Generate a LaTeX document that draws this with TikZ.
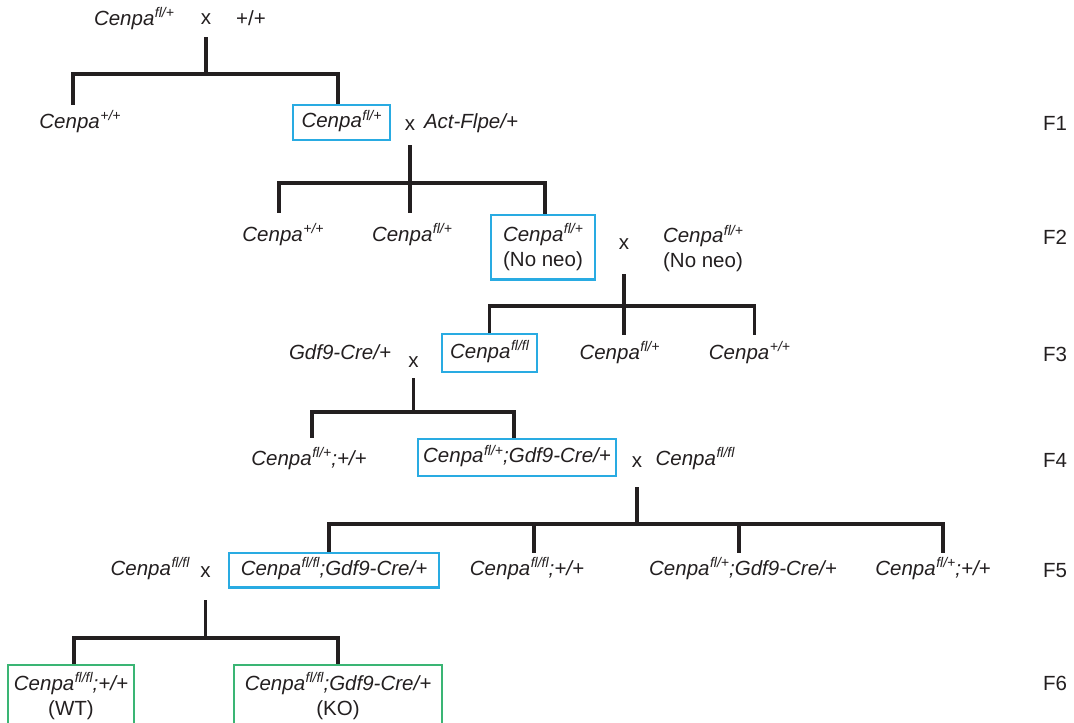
\documentclass[tikz,border=0pt]{standalone}
\usepackage{fontspec}
\setmainfont{Liberation Sans}
\definecolor{boxblue}{RGB}{41,171,226}
\definecolor{boxgreen}{RGB}{58,181,116}
\definecolor{ink}{RGB}{35,31,32}
\newcommand\gsp[1]{\kern0.5pt\raisebox{0.38em}{\fontsize{14}{14}\selectfont #1}}
\newcommand\cen[1]{\textit{Cenpa\gsp{#1}}}
\begin{document}
\begin{tikzpicture}[x=1pt,y=-1pt,
  every node/.style={font=\fontsize{20.5}{25}\selectfont, text=ink},
  lbl/.style={inner sep=0pt, text height=14.8pt, text depth=4.2pt},
  lbltwo/.style={inner sep=0pt, align=center},
  bbox/.style={draw=boxblue, line width=2.5pt, inner sep=0pt, text height=14.8pt, text depth=4.2pt},
  bboxtwo/.style={draw=boxblue, line width=2.5pt, inner sep=0pt, align=center},
  gboxtwo/.style={draw=boxgreen, line width=2.5pt, inner sep=0pt, align=center},
  link/.style={draw=ink, line width=3.2pt}
]
\useasboundingbox (0,0) rectangle (1074,723);

% ---- parents
\node[lbl] (p0a) at (134,20) {\cen{fl/+}};
\node[lbl] (x0) at (206,19) {x};
\node[lbl] (p0b) at (251,20) {+/+};

% ---- F1
\node[lbl, minimum height=36pt] (c1a) at (80,123) {\cen{+/+}};
\node[bbox, minimum width=97pt, minimum height=35pt] (b1) at (341.5,122.5) {\cen{fl/+}};
\node[lbl] (x1) at (410,125) {x};
\node[lbl] (c1c) at (471,123) {\textit{Act-Flpe/+}};
\node[lbl] (f1) at (1055,125) {F1};

% ---- F2
\node[lbl, minimum height=46pt] (c2a) at (283,236) {\cen{+/+}};
\node[lbl, minimum height=46pt] (c2b) at (412,236) {\cen{fl/+}};
\node[bboxtwo, minimum width=104pt, minimum height=64.5pt] (b2) at (543,247) {\cen{fl/+}\\(No neo)};
\node[lbl] (x2) at (624,244) {x};
\node[lbltwo] (c2d) at (703,248.5) {\cen{fl/+}\\(No neo)};
\node[lbl] (f2) at (1055,239) {F2};

% ---- F3
\node[lbl] (c3p) at (340,354) {\textit{Gdf9-Cre/+}};
\node[lbl] (x3) at (413.5,362) {x};
\node[bbox, minimum width=95pt, minimum height=38pt] (b3) at (489.5,353) {\cen{fl/fl}};
\node[lbl, minimum height=38pt] (c3b) at (619.5,354) {\cen{fl/+}};
\node[lbl, minimum height=38pt] (c3c) at (749.5,354) {\cen{+/+}};
\node[lbl] (f3) at (1055,356) {F3};

% ---- F4
\node[lbl, minimum height=44pt] (c4a) at (309,460) {\textit{Cenpa\gsp{fl/+};+/+}};
\node[bbox, minimum width=198pt, minimum height=37pt] (b4) at (517,457.5) {\textit{Cenpa\gsp{fl/+};Gdf9-Cre/+}};
\node[lbl] (x4) at (637,462.5) {x};
\node[lbl] (c4d) at (695,460) {\cen{fl/fl}};
\node[lbl] (f4) at (1055,462) {F4};

% ---- F5
\node[lbl] (c5p) at (150,570) {\cen{fl/fl}};
\node[lbl] (x5) at (205.5,572.5) {x};
\node[bbox, minimum width=210pt, minimum height=34.5pt] (b5) at (334,570) {\textit{Cenpa\gsp{fl/fl};Gdf9-Cre/+}};
\node[lbl, minimum height=34pt] (c5b) at (527,570) {\textit{Cenpa\gsp{fl/fl};+/+}};
\node[lbl, minimum height=34pt] (c5c) at (743,570) {\textit{Cenpa\gsp{fl/+};Gdf9-Cre/+}};
\node[lbl, minimum height=34pt] (c5d) at (933,570) {\textit{Cenpa\gsp{fl/+};+/+}};
\node[lbl] (f5) at (1055,572) {F5};

% ---- F6
\node[gboxtwo, minimum width=126pt, minimum height=62pt] (b6a) at (71,696) {\textit{Cenpa\gsp{fl/fl};+/+}\\(WT)};
\node[gboxtwo, minimum width=208pt, minimum height=62pt] (b6b) at (338,696) {\textit{Cenpa\gsp{fl/fl};Gdf9-Cre/+}\\(KO)};
\node[lbl] (f6) at (1055,685) {F6};

% ---- connectors
\coordinate (s0) at (206,37);   \coordinate (j0) at (206,74);
\draw[link] (s0) -- (j0);
\draw[link] ([xshift=-7pt]c1a.north) |- (j0) -| ([xshift=-3.5pt]b1.north);

\coordinate (s1) at (410,145);  \coordinate (j1) at (410,183);
\draw[link] (s1) -- (j1);
\draw[link] ([xshift=-4pt]c2a.north) |- (j1) -| ([xshift=2pt]b2.north);
\draw[link] (j1) -- (j1 |- c2b.north);

\coordinate (s2) at (624,274);  \coordinate (j2) at (624,306);
\draw[link] (s2) -- (j2);
\draw[link] (b3.north) |- (j2) -| ([xshift=5pt]c3c.north);
\draw[link] (j2) -- (j2 |- c3b.north);

\coordinate (s3) at (413.5,378); \coordinate (j3) at (413.5,412);
\draw[link] (s3) -- (j3);
\draw[link] ([xshift=3pt]c4a.north) |- (j3) -| ([xshift=-3pt]b4.north);

\coordinate (s4) at (637,487);  \coordinate (j4) at (637,524);
\draw[link] (s4) -- (j4);
\draw[link] ([xshift=-5pt]b5.north) |- (j4) -| ([xshift=10pt]c5d.north);
\coordinate (d5b) at ([xshift=7pt]c5b.north);
\coordinate (d5c) at ([xshift=-4pt]c5c.north);
\draw[link] (d5b) -- (d5b |- j4);
\draw[link] (d5c) -- (d5c |- j4);

\coordinate (s5) at (205.5,600); \coordinate (j5) at (205.5,638);
\draw[link] (s5) -- (j5);
\draw[link] ([xshift=3pt]b6a.north) |- (j5) -| (b6b.north);
\end{tikzpicture}
\end{document}
